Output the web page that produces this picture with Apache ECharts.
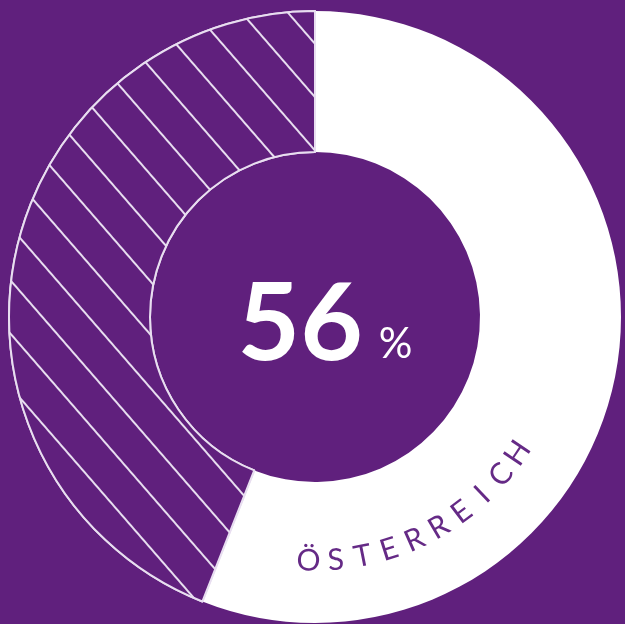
<!DOCTYPE html>
<html>
<head>
<meta charset="utf-8">
<style>
  html, body { margin: 0; padding: 0; background: #60207d; }
  #chart { width: 625px; height: 624px; }
</style>
<script src="https://cdn.jsdelivr.net/npm/echarts@6/dist/echarts.min.js"></script>
</head>
<body>
<div id="chart"></div>
<script>
// ---- data ----
const categories = ['Österreich', 'Rest'];
const shares = [56, 44];
const ringLabel = 'ÖSTERREICH';

// ---- styling ----
const PURPLE = '#60207d';
const LINE = '#e8def0';
const TEXT_PURPLE = '#652a86';

const letters = ringLabel.split('');
const letterStep = 6.4; // degrees per letter
const letterData = letters.map(l => ({ name: l, value: 1 }));
letterData.push({ name: '', value: 360 / letterStep - letters.length, label: { show: false } });

const chart = echarts.init(document.getElementById('chart'), null, { renderer: 'canvas' });

chart.setOption({
  backgroundColor: PURPLE,
  animation: false,
  title: {
    text: '{a|' + shares[0] + '}{b|%}',
    left: 325,
    top: 325,
    textAlign: 'center',
    textVerticalAlign: 'middle',
    padding: 0,
    textStyle: {
      rich: {
        a: { fontFamily: 'Lato', fontSize: 108, lineHeight: 108, color: '#ffffff', fontWeight: 'bold', verticalAlign: 'bottom' },
        b: { fontFamily: 'Lato', fontSize: 42, lineHeight: 50, color: '#ffffff', fontWeight: 'normal', verticalAlign: 'bottom', padding: [0, 0, 14, 16] }
      }
    }
  },
  series: [
    {
      type: 'pie',
      center: [315, 317],
      radius: [165, 306],
      startAngle: 90,
      clockwise: true,
      silent: true,
      label: { show: false },
      labelLine: { show: false },
      emphasis: { disabled: true },
      data: [
        { name: categories[0], value: shares[0], itemStyle: { color: '#ffffff', borderWidth: 0 } },
        {
          name: categories[1], value: shares[1],
          itemStyle: {
            color: PURPLE,
            borderColor: LINE,
            borderWidth: 2,
            decal: {
              symbol: 'rect',
              symbolSize: 1,
              color: LINE,
              backgroundColor: PURPLE,
              dashArrayX: [1, 0],
              dashArrayY: [2, 33],
              rotation: 49 * Math.PI / 180
            }
          }
        }
      ]
    },
    {
      type: 'pie',
      center: [315, 317],
      radius: [231, 251],
      startAngle: 268.5 - letterStep / 2,
      clockwise: false,
      silent: true,
      itemStyle: { color: 'rgba(0,0,0,0)' },
      emphasis: { disabled: true },
      labelLine: { show: false },
      label: {
        show: true,
        position: 'inside',
        rotate: 'tangential',
        formatter: '{b}',
        color: TEXT_PURPLE,
        fontFamily: 'Lato',
        fontSize: 30,
        fontWeight: 'normal'
      },
      data: letterData
    }
  ]
});
</script>
</body>
</html>
